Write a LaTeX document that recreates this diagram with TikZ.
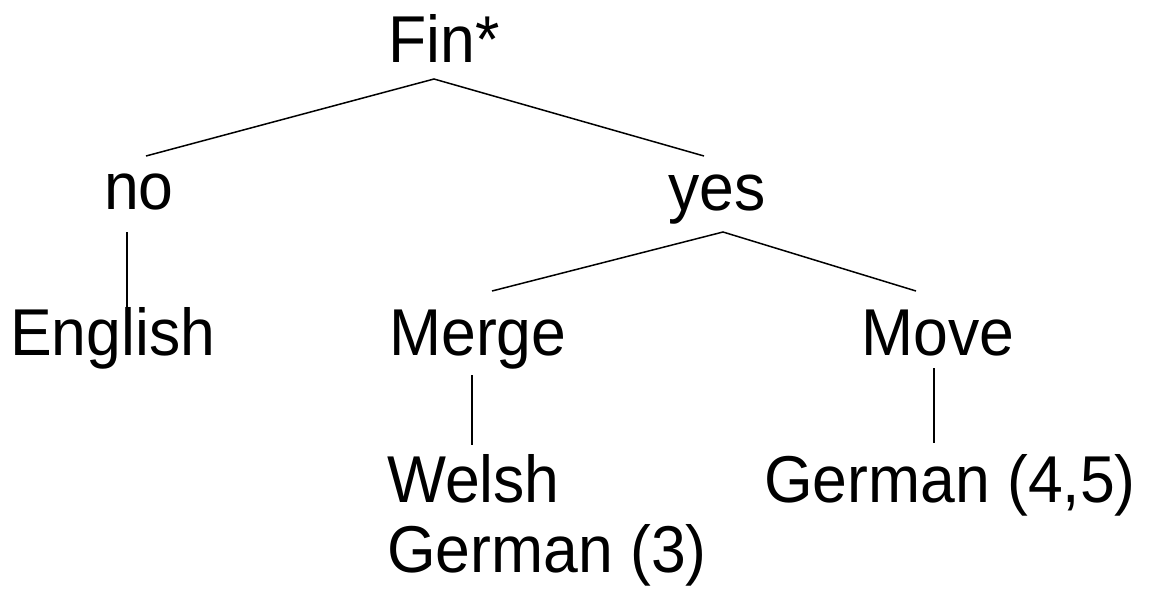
\documentclass[tikz,border=0pt]{standalone}
\usepackage{fontspec}
\setmainfont{Liberation Sans}
\newcommand{\tall}[1]{\scalebox{1}[1.06]{#1}}
\begin{document}
\begin{tikzpicture}[x=1pt,y=-1pt,
  lbl/.style={anchor=base west,inner sep=0pt,font=\fontsize{62.5}{70}\selectfont},
  edge/.style={line width=1.5pt}]
\useasboundingbox (0,0) rectangle (1151,590);
% labels
\node[lbl] (fin) at (388,62) {\tall{Fin*}};
\node[lbl] (no) at (104,209) {\tall{no}};
\node[lbl] (yes) at (668,210) {\tall{yes}};
\node[lbl] (eng) at (10,355) {\tall{English}};
\node[lbl] (merge) at (389,355) {\tall{Merge}};
\node[lbl] (move) at (861,355) {\tall{Move}};
\node[lbl] (welsh) at (387,502) {\tall{Welsh}};
\node[lbl] (ger3) at (387,572) {\tall{German (3)}};
\node[lbl] (ger45) at (764,502) {\tall{German (4,5)}};
% branch points
\coordinate (finB) at (434,79);
\coordinate (noT) at (146,156);
\coordinate (yesT) at (704,156);
\coordinate (noB) at (127,232);
\coordinate (engT) at (127,308);
\coordinate (yesB) at (723,232);
\coordinate (mergeT) at (492,291);
\coordinate (moveT) at (916,291);
\coordinate (mergeB) at (472,375);
\coordinate (welshT) at (472,445);
\coordinate (moveB) at (934,368);
\coordinate (gerT) at (934,443);
% branches
\draw[edge] (noT) -- (finB) -- (yesT);
\draw[edge] (noB) -- (engT);
\draw[edge] (mergeT) -- (yesB) -- (moveT);
\draw[edge] (mergeB) -- (welshT);
\draw[edge] (moveB) -- (gerT);
\end{tikzpicture}
\end{document}
